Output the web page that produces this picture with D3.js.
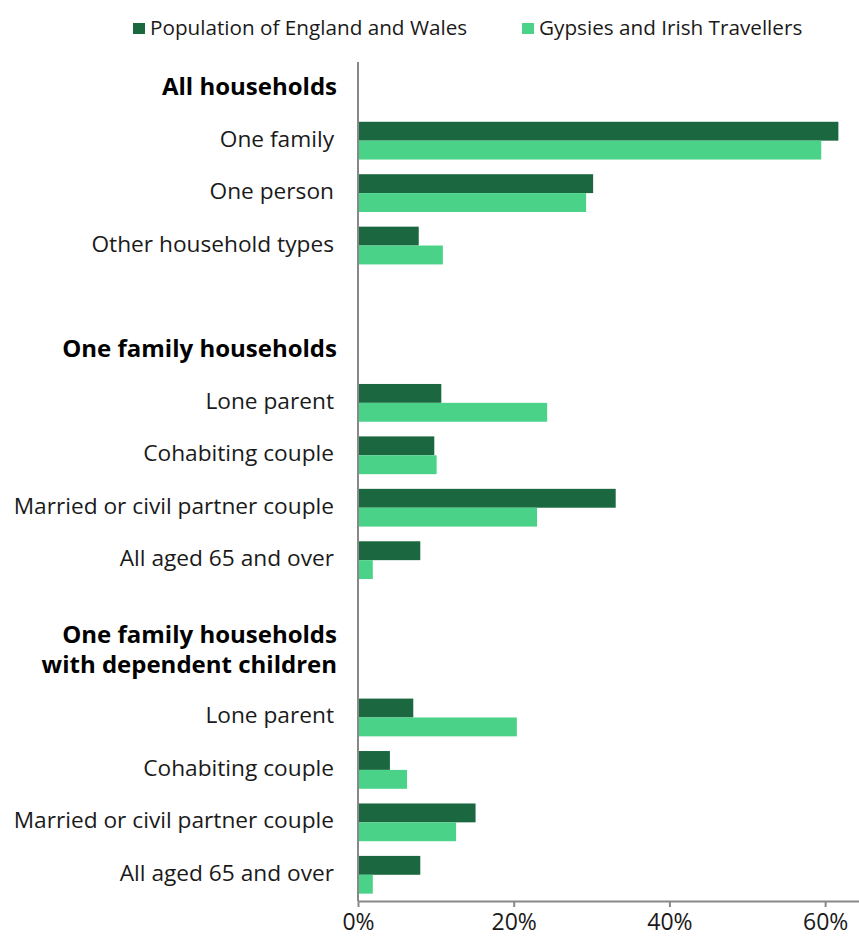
<!DOCTYPE html>
<html>
<head>
<meta charset="utf-8">
<script src="https://cdn.jsdelivr.net/npm/d3@7"></script>
<style>
  body { margin: 0; background: #fff; }
  svg { display: block; font-family: "Open Sans", sans-serif; }
</style>
</head>
<body>
<svg id="chart"></svg>
<script>
// rows top to bottom; empty strings are spacer rows
const labels = [
  "All households", "One family", "One person", "Other household types", "",
  "One family households", "Lone parent", "Cohabiting couple", "Married or civil partner couple", "All aged 65 and over", "",
  "One family households|with dependent children", "Lone parent", "Cohabiting couple", "Married or civil partner couple", "All aged 65 and over"
];
const headers = [0, 5, 11];

const seriesNames = ["Population of England and Wales", "Gypsies and Irish Travellers"];
const population = [null, 61.7, 30.2, 7.8, null, null, 10.7, 9.8, 33.1, 8.0, null, null, 7.1, 4.1, 15.1, 8.0];
const travellers = [null, 59.5, 29.3, 10.9, null, null, 24.3, 10.1, 23.0, 1.9, null, null, 20.4, 6.3, 12.6, 1.9];
const tickValues = [0, 20, 40, 60];

const colors = ["#1b6840", "#4ad289"];

const width = 859, height = 940;
const plotLeft = 358, plotTop = 62, plotBottom = 901;

const svg = d3.select("#chart").attr("width", width).attr("height", height);

const x = d3.scaleLinear().domain([0, 64.35]).range([plotLeft, width]);
const y = d3.scaleBand()
  .domain(d3.range(labels.length))
  .range([plotTop, plotBottom])
  .paddingInner(0.28)
  .paddingOuter(0.14);

const half = y.bandwidth() / 2;

// bars
[population, travellers].forEach((values, s) => {
  svg.append("g")
    .selectAll("rect")
    .data(values.map((v, i) => ({v, i})).filter(d => d.v != null))
    .enter()
    .append("rect")
    .attr("x", x(0))
    .attr("y", d => y(d.i) + s * half)
    .attr("width", d => x(d.v) - x(0))
    .attr("height", half)
    .attr("fill", colors[s]);
});

// category labels
const labelG = svg.append("g");
labels.forEach((label, i) => {
  if (!label) return;
  const bold = headers.includes(i);
  const lines = label.split("|");
  const cy = y(i) + y.bandwidth() / 2;
  const lx = bold ? 337 : 334;
  const t = labelG.append("text")
    .attr("x", lx)
    .attr("y", lines.length > 1 ? cy - 32 : cy - 3)
    .attr("text-anchor", "end")
    .attr("dominant-baseline", "central")
    .style("font-size", bold ? "24px" : "22.7px")
    .style("font-weight", bold ? 700 : 400)
    .style("fill", bold ? "#000" : "#1a1a1a");
  lines.forEach((line, j) => {
    t.append("tspan")
      .attr("x", lx)
      .attr("dy", j === 0 ? 0 : 30)
      .text(line);
  });
});

// vertical axis line
svg.append("line")
  .attr("x1", x(0)).attr("x2", x(0))
  .attr("y1", plotTop).attr("y2", plotBottom)
  .attr("stroke", "#888").attr("stroke-width", 2);

// bottom axis
const xAxis = d3.axisBottom(x)
  .tickValues(tickValues)
  .tickFormat(d => d + "%")
  .tickSize(6)
  .tickSizeOuter(0);

const axisG = svg.append("g")
  .attr("transform", `translate(0,${plotBottom})`)
  .call(xAxis);

axisG.select(".domain").attr("stroke", "#888").attr("stroke-width", 2);
axisG.selectAll(".tick line").attr("stroke", "#888").attr("stroke-width", 2);
axisG.selectAll(".tick text")
  .attr("y", 13)
  .style("font-family", "'Open Sans', sans-serif")
  .style("font-size", "23px")
  .style("fill", "#1a1a1a");

// legend
const legendX = [133, 522];
seriesNames.forEach((name, s) => {
  const g = svg.append("g").attr("transform", `translate(${legendX[s]},0)`);
  g.append("rect")
    .attr("x", 0).attr("y", 23)
    .attr("width", 12).attr("height", 11)
    .attr("fill", colors[s]);
  g.append("text")
    .attr("x", 17).attr("y", 34.5)
    .style("font-size", "20.7px")
    .style("fill", "#1a1a1a")
    .text(name);
});
</script>
</body>
</html>
